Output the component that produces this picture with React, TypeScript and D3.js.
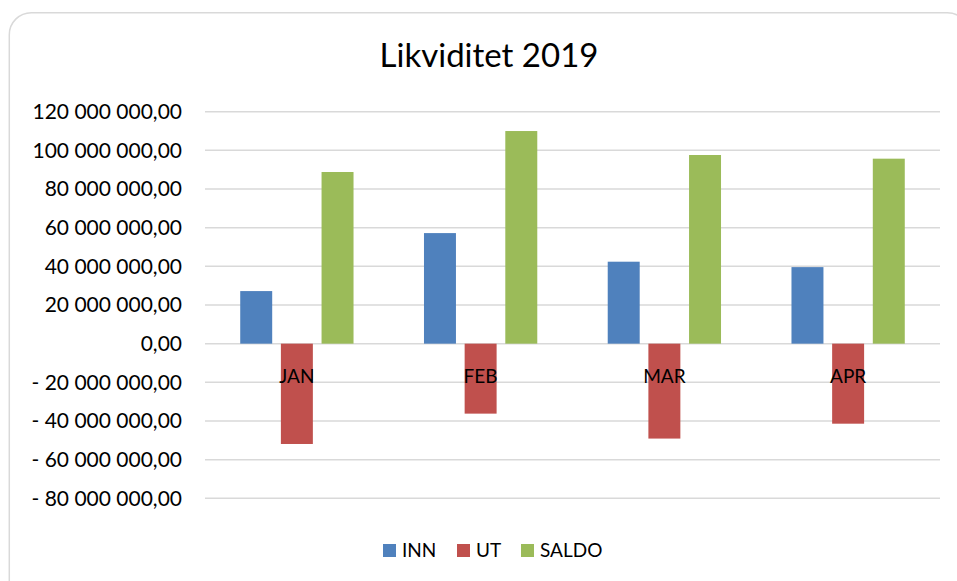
import React, { useEffect, useRef } from "react";
import * as d3 from "d3";

const categories = ["JAN", "FEB", "MAR", "APR"];
const seriesNames = ["INN", "UT", "SALDO"];
const innValues = [27.2e6, 57.2e6, 42.4e6, 39.6e6];
const utValues = [-51.9e6, -36.2e6, -49.1e6, -41.4e6];
const saldoValues = [88.8e6, 110.0e6, 97.6e6, 95.7e6];
const tickValues = [120e6, 100e6, 80e6, 60e6, 40e6, 20e6, 0, -20e6, -40e6, -60e6, -80e6];
const colors = ["#4F81BD", "#C0504D", "#9BBB59"];

const W = 957;
const H = 581;
const FONT = "Lato, 'Open Sans', sans-serif";

function fmt(v: number): string {
  const abs = Math.abs(v);
  const intPart = Math.floor(abs).toString().replace(/\B(?=(\d{3})+(?!\d))/g, " ");
  const s = intPart + ",00";
  return v < 0 ? "- " + s : s;
}

export default function App() {
  const ref = useRef<SVGSVGElement>(null);

  useEffect(() => {
    const svg = d3.select(ref.current);
    svg.selectAll("*").remove();

    const x0 = 205, x1 = 940;
    const y = d3.scaleLinear().domain([-80e6, 120e6]).range([498.3, 111.7]);
    const xBand = d3.scaleBand().domain(categories).range([x0, x1]).paddingInner(0).paddingOuter(0);
    const bw = xBand.bandwidth();
    const barW = bw * 0.174;
    const step = bw * 0.2213;

    // frame
    svg.append("rect")
      .attr("x", 9.3).attr("y", 12.7).attr("width", 960).attr("height", 600)
      .attr("rx", 22).attr("ry", 22)
      .attr("fill", "#fff").attr("stroke", "#d9d9d9").attr("stroke-width", 1.5);

    // title
    svg.append("text")
      .attr("x", 489).attr("y", 67)
      .attr("text-anchor", "middle")
      .attr("font-family", FONT).attr("font-size", 33)
      .attr("fill", "#000")
      .text("Likviditet 2019");

    // gridlines
    svg.append("g").selectAll("line").data(tickValues).join("line")
      .attr("x1", x0).attr("x2", x1)
      .attr("y1", (d) => y(d)).attr("y2", (d) => y(d))
      .attr("stroke", "#d9d9d9").attr("stroke-width", 1.5);

    // tick labels
    svg.append("g").selectAll("text").data(tickValues).join("text")
      .attr("x", 182).attr("y", (d) => y(d))
      .attr("dy", "0.35em")
      .attr("text-anchor", "end")
      .attr("font-family", FONT).attr("font-size", 21)
      .attr("fill", "#000")
      .text((d) => fmt(d));

    const all = [innValues, utValues, saldoValues];
    all.forEach((vals, si) => {
      svg.append("g").selectAll("rect").data(vals).join("rect")
        .attr("x", (d, i) => (xBand(categories[i]) as number) + bw / 2 - barW / 2 + (si - 1) * step)
        .attr("y", (d) => y(Math.max(0, d)))
        .attr("width", barW)
        .attr("height", (d) => Math.abs(y(d) - y(0)))
        .attr("fill", colors[si]);
    });

    // category labels
    svg.append("g").selectAll("text").data(categories).join("text")
      .attr("x", (d) => (xBand(d) as number) + bw / 2)
      .attr("y", 376)
      .attr("dy", "0.35em")
      .attr("text-anchor", "middle")
      .attr("font-family", FONT).attr("font-size", 19)
      .attr("fill", "#000")
      .text((d) => d);

    // legend
    const legendX = [383, 457, 521];
    const lg = svg.append("g");
    seriesNames.forEach((name, i) => {
      lg.append("rect")
        .attr("x", legendX[i]).attr("y", 544)
        .attr("width", 13).attr("height", 13)
        .attr("fill", colors[i]);
      lg.append("text")
        .attr("x", legendX[i] + 19).attr("y", 550.5)
        .attr("dy", "0.35em")
        .attr("font-family", FONT).attr("font-size", 19)
        .attr("fill", "#000")
        .text(name);
    });
  }, []);

  return (
    <div style={{ position: "absolute", left: 0, top: 0, width: W, height: H, overflow: "hidden", background: "#fff" }}>
      <svg ref={ref} width={W} height={H} style={{ display: "block" }} />
    </div>
  );
}
